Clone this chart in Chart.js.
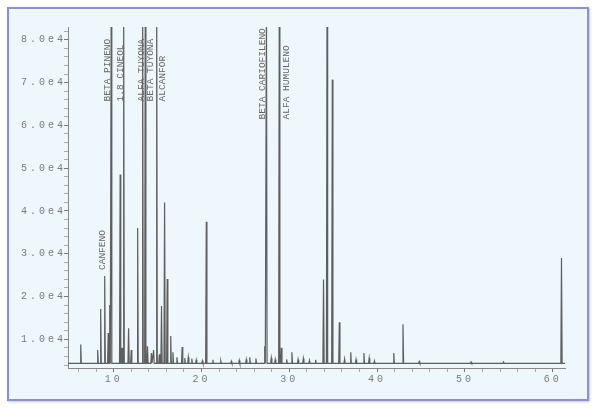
<!DOCTYPE html>
<html lang="es">
<head>
<meta charset="UTF-8">
<title>Cromatograma</title>
<script src="https://cdn.jsdelivr.net/npm/chart.js"></script>
<style>
  html, body { margin: 0; padding: 0; background: #fff; }
  #frame {
    position: absolute; left: 7px; top: 7px;
    width: 578px; height: 390px;
    border: 2px solid #8b90cf;
    background: #edf7fc;
    box-shadow: 1px 1px 2px rgba(110, 110, 170, 0.4);
  }
  canvas { display: block; }
</style>
</head>
<body>
<div id="frame"><canvas id="myChart" width="578" height="390"></canvas></div>

<script>
  // tiempos de retención (min) y alturas de los picos (cuentas)
  const peakTimes = [
    6.25, 8.18, 8.52, 8.98, 9.38, 9.55, 9.72, 10.74, 10.95, 11.14,
    11.7, 12.0, 12.73, 13.3, 13.6, 13.85, 14.3, 14.55, 14.9, 15.2,
    15.45, 15.8, 16.1, 16.5, 16.75, 17.2, 17.8, 18.1, 18.5, 18.9,
    19.4, 20.1, 20.55, 21.3, 22.2, 23.4, 24.3, 25.1, 25.5, 26.2,
    27.2, 27.4, 27.95, 28.4, 28.86, 29.1, 29.7, 30.3, 31.0, 31.6,
    32.3, 33.0, 33.9, 34.3, 34.9, 35.7, 36.3, 37.0, 37.6, 38.5,
    39.1, 39.7, 41.9, 42.95, 44.8, 50.7, 54.4, 61.0
  ];
  const peakHeights = [
    8800, 7500, 17100, 24800, 11500, 18000, 90000, 48500, 8000, 90000,
    12600, 7500, 36000, 90000, 90000, 8400, 6800, 7500, 90000, 6500,
    17800, 42000, 24100, 10800, 7000, 5800, 8200, 5600, 5800, 5500,
    5200, 5000, 37500, 5200, 5000, 4900, 5100, 5300, 5800, 5500,
    8400, 90000, 5600, 5300, 90000, 8000, 5300, 7000, 5300, 5500,
    5100, 5200, 24000, 90000, 70700, 14000, 5400, 7000, 5300, 6800,
    5600, 5000, 6800, 13500, 4800, 4700, 4700, 29000
  ];
  const baseline = 4400;

  const xRange = [4.8, 61.4];
  const yRange = [3300, 83000];
  const xTickLabels = [10, 20, 30, 40, 50, 60];
  const yTickLabels = [10000, 20000, 30000, 40000, 50000, 60000, 70000, 80000];

  // nombres de los compuestos, posición (min) y altura donde empieza el texto
  const labelNames = ['CANFENO', 'BETA PINENO', '1.8 CINEOL', 'ALFA TUYONA', 'BETA TUYONA',
    'ALCANFOR', 'BETA CARIOFILENO', 'ALFA HUMULENO'];
  const labelTimes = [8.75, 9.32, 10.8, 13.18, 14.2, 15.57, 26.93, 29.66];
  const labelBottoms = [26200, 65600, 65600, 65600, 65600, 65600, 61400, 61400];

  // trazo del cromatograma: cada pico sube desde la línea base y vuelve
  const trace = [{ x: xRange[0], y: baseline }];
  peakTimes.forEach((t, i) => {
    trace.push({ x: t - 0.07, y: baseline }, { x: t, y: peakHeights[i] }, { x: t + 0.07, y: baseline });
  });
  trace.push({ x: xRange[1], y: baseline });

  // marcas menores de los ejes
  const xMarks = [];
  for (let v = 6; v <= 60; v += 2) xMarks.push(v);
  const yMarks = [];
  for (let v = 4000; v <= 82000; v += 2000) yMarks.push(v);

  const spacing = {
    id: 'spacing',
    beforeDraw(chart) { chart.ctx.letterSpacing = '3px'; },
    beforeDatasetsDraw(chart) { chart.ctx.letterSpacing = '0px'; }
  };

  const peakLabels = {
    id: 'peakLabels',
    afterDatasetsDraw(chart) {
      const { ctx, scales: { x, y } } = chart;
      ctx.save();
      ctx.font = '9.5px "Liberation Mono", monospace';
      ctx.fillStyle = '#666';
      ctx.textAlign = 'left';
      ctx.textBaseline = 'middle';
      labelNames.forEach((name, i) => {
        ctx.save();
        ctx.translate(x.getPixelForValue(labelTimes[i]), y.getPixelForValue(labelBottoms[i]));
        ctx.rotate(-Math.PI / 2);
        ctx.fillText(name, 0, 0);
        ctx.restore();
      });
      ctx.restore();
    }
  };

  const tickFont = { family: '"Liberation Mono", monospace', size: 10 };

  new Chart(document.getElementById('myChart').getContext('2d'), {
    type: 'scatter',
    data: {
      datasets: [{
        data: trace,
        showLine: true,
        borderColor: '#5e5e5e',
        borderWidth: 1.2,
        pointRadius: 0,
        tension: 0
      }]
    },
    options: {
      responsive: false,
      animation: false,
      layout: { padding: { top: 18, right: 22, left: 0, bottom: 0 } },
      plugins: { legend: { display: false }, tooltip: { enabled: false } },
      scales: {
        x: {
          type: 'linear',
          min: xRange[0],
          max: xRange[1],
          afterBuildTicks: axis => { axis.ticks = xMarks.map(v => ({ value: v })); },
          afterFit: scale => { scale.height = 31; },
          ticks: {
            autoSkip: false,
            maxRotation: 0,
            padding: 1,
            color: '#7a7a7a',
            font: tickFont,
            callback: v => xTickLabels.includes(v) ? String(v) : ''
          },
          grid: {
            drawOnChartArea: false,
            tickLength: 4,
            tickColor: c => xTickLabels.includes(c.tick.value) ? '#777' : '#aaa'
          },
          border: { color: '#888', width: 1 }
        },
        y: {
          type: 'linear',
          min: yRange[0],
          max: yRange[1],
          afterBuildTicks: axis => { axis.ticks = yMarks.map(v => ({ value: v })); },
          afterFit: scale => { scale.width = 59; },
          ticks: {
            autoSkip: false,
            padding: -2,
            color: '#7a7a7a',
            font: tickFont,
            callback: v => yTickLabels.includes(v) ? (v / 10000).toFixed(1) + 'e4' : ''
          },
          grid: {
            drawOnChartArea: false,
            tickLength: 4,
            tickColor: c => yTickLabels.includes(c.tick.value) ? '#777' : '#aaa'
          },
          border: { color: '#888', width: 1 }
        }
      }
    },
    plugins: [spacing, peakLabels]
  });
</script>
</body>
</html>
